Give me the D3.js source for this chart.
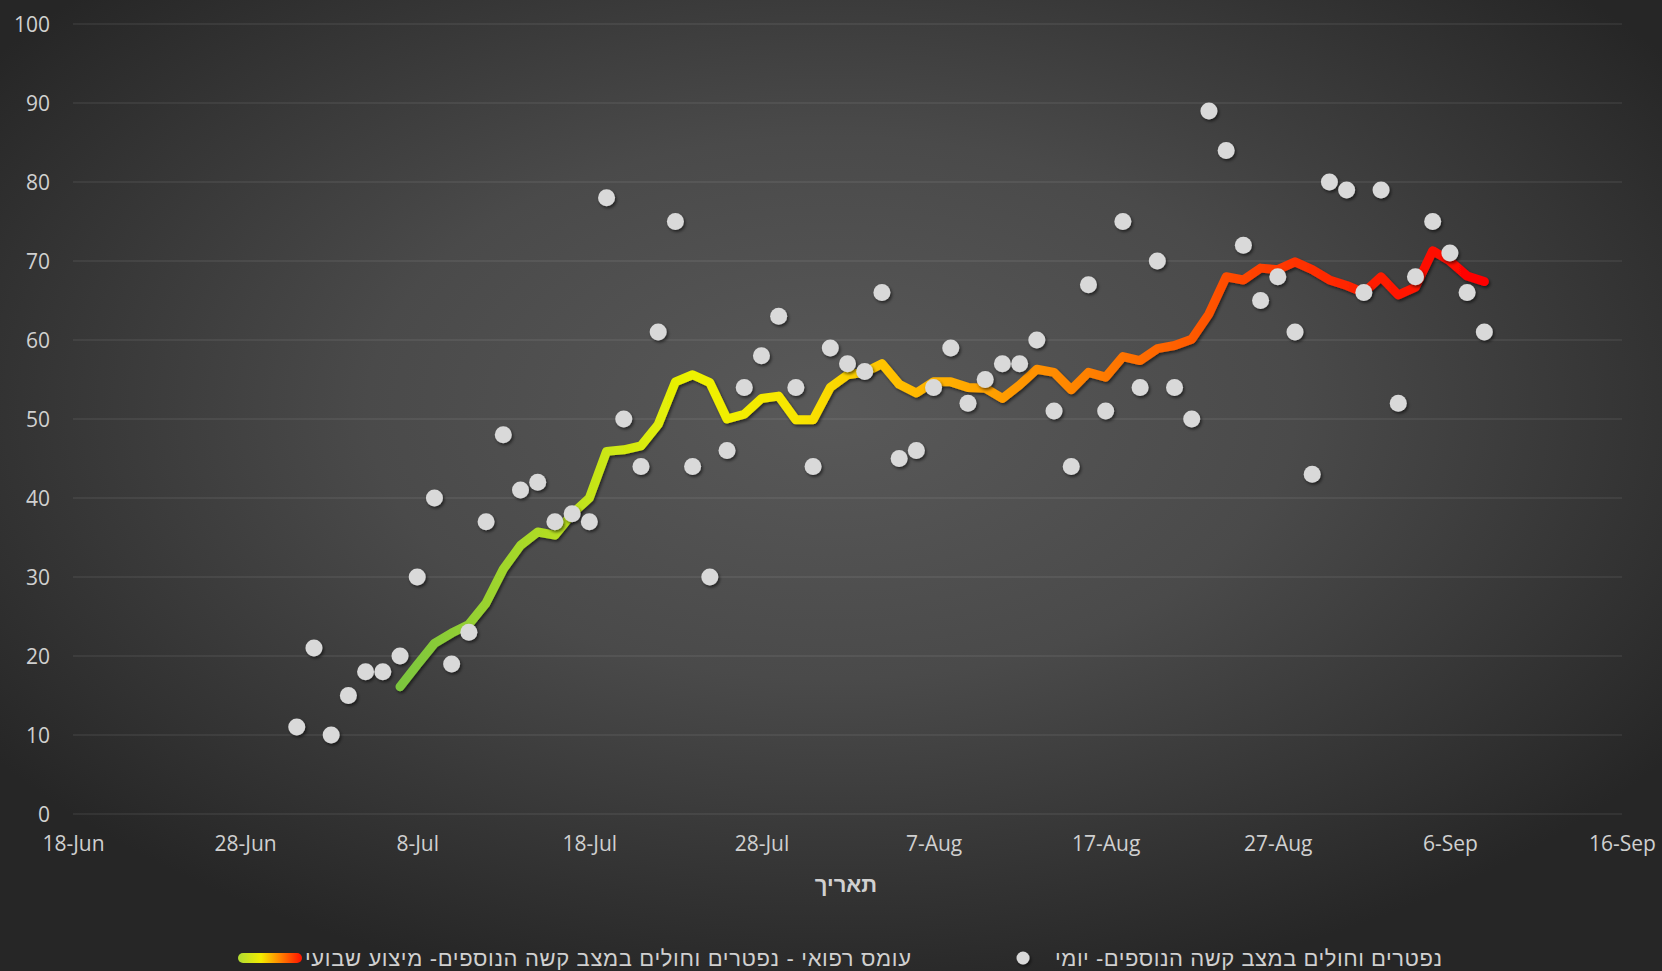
<!DOCTYPE html>
<html>
<head>
<meta charset="utf-8">
<script src="https://cdn.jsdelivr.net/npm/d3@7"></script>
<style>
body { margin: 0; background: #2a2a2a; overflow: hidden; }
text { font-family: "Open Sans", "Liberation Sans", sans-serif; }
.heb { font-family: "Liberation Sans", "DejaVu Sans", sans-serif; }
</style>
</head>
<body>
<script>
// daily values, one per day starting at firstDailyDay
var firstDailyDay = "2020-07-01";
var dailyValues = [11, 21, 10, 15, 18, 18, 20, 30, 40, 19,
    23, 37, 48, 41, 42, 37, 38, 37, 78, 50,
    44, 61, 75, 44, 30, 46, 54, 58, 63, 54,
    44, 59, 57, 56, 66, 45, 46, 54, 59, 52,
    55, 57, 57, 60, 51, 44, 67, 51, 75, 54,
    70, 54, 50, 89, 84, 72, 65, 68, 61, 43,
    80, 79, 66, 79, 52, 68, 75, 71, 66, 61];

// weekly average line, one per day starting at firstAvgDay
var firstAvgDay = "2020-07-07";
var weeklyAvg = [16.1, 18.9, 21.6, 22.9, 24.0, 26.7, 31.0, 34.0, 35.7, 35.3,
    38.0, 40.0, 45.9, 46.1, 46.6, 49.3, 54.7, 55.6, 54.6, 50.0,
    50.6, 52.6, 52.9, 49.9, 49.9,
    54.0, 55.6, 55.9, 57.0, 54.4, 53.3, 54.7, 54.7, 54.0, 53.9,
    52.6, 54.3, 56.3, 55.9, 53.7, 55.9, 55.3, 57.9, 57.4, 58.9,
    59.3, 60.1, 63.3, 68.0, 67.6, 69.1, 68.9, 69.9, 68.9, 67.6, 66.9,
    66.0, 68.0, 65.7, 66.7, 71.3, 70.0, 68.1, 67.4];

var xTickDates = ["2020-06-18", "2020-06-28", "2020-07-08", "2020-07-18", "2020-07-28",
    "2020-08-07", "2020-08-17", "2020-08-27", "2020-09-06", "2020-09-16"];
var yTicks = [0, 10, 20, 30, 40, 50, 60, 70, 80, 90, 100];

var xTitle = "תאריך";
var legendDaily = "נפטרים וחולים במצב קשה הנוספים- יומי";
var legendAvg = "עומס רפואי  - נפטרים וחולים במצב קשה הנוספים- מיצוע שבועי";

var parseDay = d3.utcParse("%Y-%m-%d");
var fmtTick = d3.utcFormat("%-d-%b");

var width = 1662, height = 971;
var margin = { top: 24, right: 40, bottom: 157, left: 73 };

var dailyPoints = dailyValues.map(function(v, i) {
    return { date: d3.utcDay.offset(parseDay(firstDailyDay), i), value: v };
});
var avgPoints = weeklyAvg.map(function(v, i) {
    return { date: d3.utcDay.offset(parseDay(firstAvgDay), i), value: v };
});

var x = d3.scaleUtc()
    .domain([parseDay(xTickDates[0]), parseDay(xTickDates[xTickDates.length - 1])])
    .range([margin.left, width - margin.right]);

var y = d3.scaleLinear()
    .domain([0, 100])
    .range([height - margin.bottom, margin.top]);

var svg = d3.select("body").append("svg")
    .attr("width", width)
    .attr("height", height);

var defs = svg.append("defs");

var bg = defs.append("radialGradient").attr("id", "bg")
    .attr("cx", "50%").attr("cy", "42%").attr("r", "62%");
bg.append("stop").attr("offset", "0%").attr("stop-color", "#595959");
bg.append("stop").attr("offset", "45%").attr("stop-color", "#4a4a4a");
bg.append("stop").attr("offset", "100%").attr("stop-color", "#262626");

// colour runs along the date axis, green -> yellow -> orange -> red
var lineColors = [
    ["2020-07-07", "#7cc63e"], ["2020-07-14", "#a6d829"], ["2020-07-19", "#cbe716"],
    ["2020-07-24", "#eef200"], ["2020-07-30", "#f8e600"], ["2020-08-04", "#ffc400"],
    ["2020-08-10", "#ffa200"], ["2020-08-16", "#ff8000"], ["2020-08-22", "#ff5a00"],
    ["2020-08-28", "#ff3300"], ["2020-09-08", "#ff0000"]
];
var x0 = x(parseDay(lineColors[0][0])), x1 = x(parseDay(lineColors[lineColors.length - 1][0]));
var lg = defs.append("linearGradient").attr("id", "lineGrad")
    .attr("gradientUnits", "userSpaceOnUse")
    .attr("x1", x0).attr("x2", x1)
    .attr("y1", 0).attr("y2", 0);
lineColors.forEach(function(c) {
    lg.append("stop").attr("offset", (x(parseDay(c[0])) - x0) / (x1 - x0)).attr("stop-color", c[1]);
});

var legY = 958;
var lgl = defs.append("linearGradient").attr("id", "legGrad")
    .attr("gradientUnits", "userSpaceOnUse")
    .attr("x1", 240).attr("x2", 300).attr("y1", 0).attr("y2", 0);
lgl.append("stop").attr("offset", "0%").attr("stop-color", "#b5dd30");
lgl.append("stop").attr("offset", "35%").attr("stop-color", "#f2ec00");
lgl.append("stop").attr("offset", "65%").attr("stop-color", "#ff8a00");
lgl.append("stop").attr("offset", "100%").attr("stop-color", "#ff1a00");

var sh = defs.append("filter").attr("id", "shadow")
    .attr("x", "-50%").attr("y", "-50%").attr("width", "200%").attr("height", "200%");
sh.append("feDropShadow").attr("dx", 1.5).attr("dy", 2).attr("stdDeviation", 1.6)
    .attr("flood-color", "#000").attr("flood-opacity", 0.55);

svg.append("rect").attr("width", width).attr("height", height).attr("fill", "url(#bg)");

// gridlines
svg.append("g").selectAll("line")
    .data(yTicks)
    .enter().append("line")
    .attr("x1", x.range()[0]).attr("x2", x.range()[1])
    .attr("y1", function(d) { return y(d); }).attr("y2", function(d) { return y(d); })
    .attr("stroke", "#ffffff").attr("stroke-opacity", 0.13).attr("stroke-width", 1.2);

var yAxis = d3.axisLeft(y).tickValues(yTicks).tickSize(0).tickPadding(0);
var gy = svg.append("g").attr("transform", "translate(50,0)").call(yAxis);
gy.select(".domain").remove();
gy.selectAll("text").attr("fill", "#d0d0d0").attr("font-size", 21).attr("dy", "0.35em")
    .attr("font-family", "'Open Sans', sans-serif");

var xAxis = d3.axisBottom(x).tickValues(xTickDates.map(parseDay)).tickFormat(fmtTick).tickSize(0);
var gx = svg.append("g").attr("transform", "translate(0," + (y(0) + 19) + ")").call(xAxis);
gx.select(".domain").remove();
gx.selectAll("text").attr("fill", "#d0d0d0").attr("font-size", 21)
    .attr("font-family", "'Open Sans', sans-serif");

svg.append("text")
    .attr("class", "heb")
    .attr("x", 846).attr("y", 884)
    .attr("dy", "0.35em")
    .attr("text-anchor", "middle")
    .attr("fill", "#d0d0d0").attr("font-size", 22).attr("font-weight", "bold")
    .text(xTitle);

// weekly average line
var line = d3.line()
    .x(function(d) { return x(d.date); })
    .y(function(d) { return y(d.value); });

svg.append("path")
    .datum(avgPoints)
    .attr("d", line)
    .attr("fill", "none")
    .attr("stroke", "url(#lineGrad)")
    .attr("stroke-width", 9)
    .attr("stroke-linejoin", "round")
    .attr("stroke-linecap", "round")
    .attr("filter", "url(#shadow)");

// daily points
svg.append("g").selectAll("circle")
    .data(dailyPoints)
    .enter().append("circle")
    .attr("cx", function(d) { return x(d.date); })
    .attr("cy", function(d) { return y(d.value); })
    .attr("r", 8.5)
    .attr("fill", "#d9d9d9")
    .attr("filter", "url(#shadow)");

// legend
svg.append("line")
    .attr("x1", 243).attr("x2", 297).attr("y1", legY).attr("y2", legY)
    .attr("stroke", "url(#legGrad)").attr("stroke-width", 10).attr("stroke-linecap", "round");
svg.append("text").attr("class", "heb")
    .attr("x", 305).attr("y", legY).attr("dy", "0.35em")
    .attr("fill", "#d0d0d0").attr("font-size", 22)
    .attr("textLength", 606).attr("lengthAdjust", "spacing")
    .text(legendAvg);

svg.append("circle")
    .attr("cx", 1023).attr("cy", legY).attr("r", 6.5)
    .attr("fill", "#d9d9d9").attr("filter", "url(#shadow)");
svg.append("text").attr("class", "heb")
    .attr("x", 1055).attr("y", legY).attr("dy", "0.35em")
    .attr("fill", "#d0d0d0").attr("font-size", 22)
    .attr("textLength", 387).attr("lengthAdjust", "spacing")
    .text(legendDaily);
</script>
</body>
</html>
